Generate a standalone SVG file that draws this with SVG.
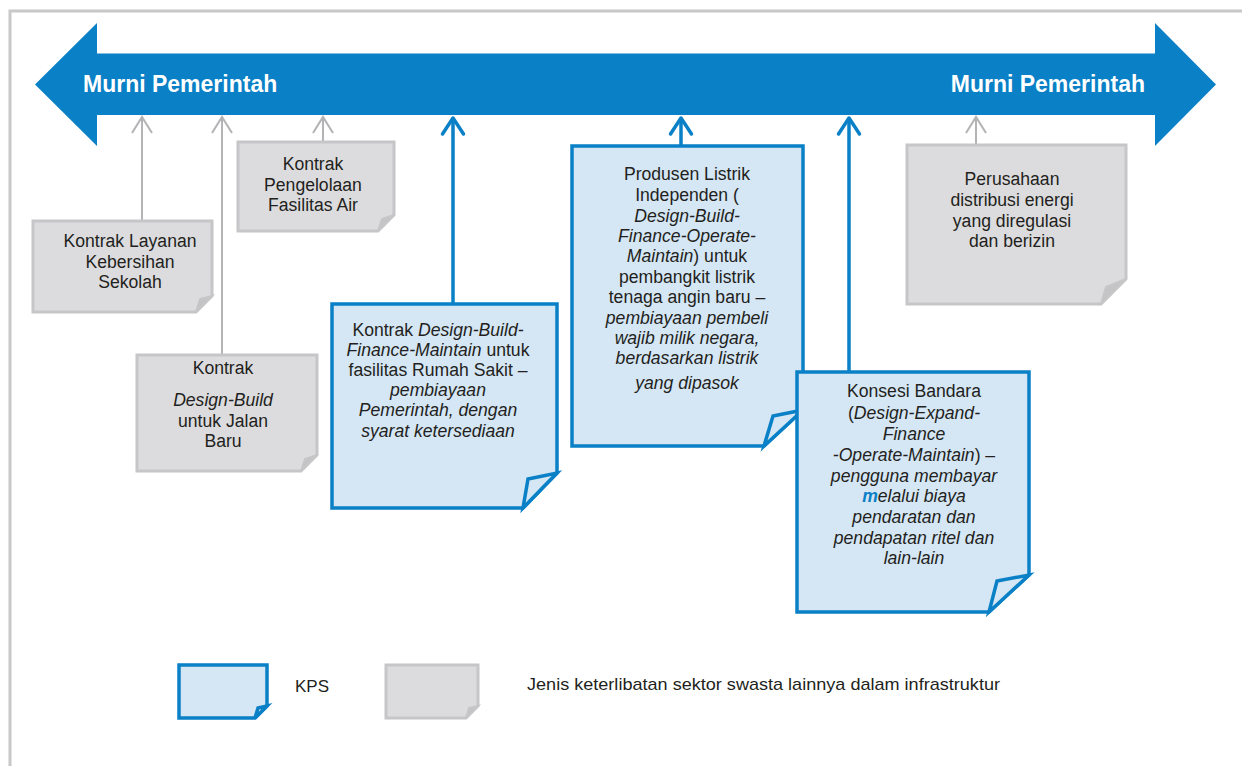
<svg xmlns="http://www.w3.org/2000/svg" width="1242" height="766" viewBox="0 0 1242 766">
<defs>
<style>
.t{font-family:"Liberation Sans",Arial,sans-serif;font-size:17.6px;fill:#231F20;text-anchor:middle}
.i{font-style:italic}
.h{font-family:"Liberation Sans",Arial,sans-serif;font-size:23px;font-weight:bold;fill:#FFFFFF}
.bb{fill:#D5E6F5;stroke:#0A80C6;stroke-width:3.5;stroke-linejoin:miter}
.gb{fill:#DCDCDE;stroke:#C6C6C8;stroke-width:3;stroke-linejoin:miter}
.gf{fill:#C4C4C6;stroke:#C6C6C8;stroke-width:2}
.cg{stroke:#B3B3B5;stroke-width:2;fill:none}
.cb{stroke:#0A80C6;stroke-width:3.5;fill:none}
.lg{font-family:"Liberation Sans",Arial,sans-serif;font-size:17px;fill:#231F20}
</style>
<marker id="ag" viewBox="-20 -15 30 30" markerWidth="30" markerHeight="30" refX="0" refY="0" orient="auto" markerUnits="userSpaceOnUse">
<path d="M-16,-10 L0,0 L-16,10" fill="none" stroke="#B3B3B5" stroke-width="2"/>
</marker>
<marker id="ab" viewBox="-20 -15 30 30" markerWidth="30" markerHeight="30" refX="0" refY="0" orient="auto" markerUnits="userSpaceOnUse">
<path d="M-16,-10.5 L0,0 L-16,10.5" fill="none" stroke="#0A80C6" stroke-width="3.5" stroke-linejoin="round" stroke-linecap="round"/>
</marker>
</defs>
<rect width="1242" height="766" fill="#FFFFFF"/>
<rect x="10" y="11" width="1250" height="780" fill="none" stroke="#C8C8C8" stroke-width="3"/>

<g id="arrow">
<polygon points="35,84.5 97,23 97,53.5 1155,53.5 1155,23 1216,84.5 1155,146 1155,115 97,115 97,146" fill="#0A80C6"/>
<text class="h" x="83" y="92">Murni Pemerintah</text>
<text class="h" x="1145" y="92" text-anchor="end">Murni Pemerintah</text>
</g>

<g id="connectors">
<line class="cg" x1="142" y1="221" x2="142" y2="117" marker-end="url(#ag)"/>
<line class="cg" x1="222" y1="355" x2="222" y2="117" marker-end="url(#ag)"/>
<line class="cg" x1="323" y1="142" x2="323" y2="117" marker-end="url(#ag)"/>
<line class="cg" x1="976" y1="145" x2="976" y2="117" marker-end="url(#ag)"/>
<line class="cb" x1="453" y1="304" x2="453" y2="118" marker-end="url(#ab)"/>
<line class="cb" x1="681" y1="146" x2="681" y2="118" marker-end="url(#ab)"/>
<line class="cb" x1="849" y1="372" x2="849" y2="118" marker-end="url(#ab)"/>
</g>

<g id="n-layanan">
<path class="gb" d="M33,221 H212 V296 L196,312 H33 Z"/>
<polygon class="gf" points="200,299 212,296 196,312"/>
<text class="t" x="130" y="247">Kontrak Layanan</text>
<text class="t" x="130" y="268">Kebersihan</text>
<text class="t" x="130" y="288">Sekolah</text>
</g>

<g id="n-air">
<path class="gb" d="M238,142 H394 V215 L378,231 H238 Z"/>
<polygon class="gf" points="382,219 394,215 378,231"/>
<text class="t" x="313" y="170">Kontrak</text>
<text class="t" x="313" y="191">Pengelolaan</text>
<text class="t" x="313" y="211">Fasilitas Air</text>
</g>

<g id="n-jalan">
<path class="gb" d="M137,355 H317 V455 L301,471 H137 Z"/>
<polygon class="gf" points="305,459 317,455 301,471"/>
<text class="t" x="223" y="374">Kontrak</text>
<text class="t i" x="223" y="406">Design-Build</text>
<text class="t" x="223" y="427">untuk Jalan</text>
<text class="t" x="223" y="447">Baru</text>
</g>

<g id="n-rumahsakit">
<path class="bb" d="M332,304 H557 V473 L523,508 H332 Z"/>
<polygon class="bb" points="528,479 557,473 523,508"/>
<text class="t" x="438" y="336">Kontrak <tspan class="i">Design-Build-</tspan></text>
<text class="t" x="438" y="356"><tspan class="i">Finance-Maintain</tspan> untuk</text>
<text class="t" x="438" y="376">fasilitas Rumah Sakit –</text>
<text class="t i" x="438" y="396">pembiayaan</text>
<text class="t i" x="438" y="416">Pemerintah, dengan</text>
<text class="t i" x="438" y="437">syarat ketersediaan</text>
</g>

<g id="n-listrik">
<path class="bb" d="M572,146 H803 V410 L764,446 H572 Z"/>
<polygon class="bb" points="773,416 803,410 764,446"/>
<text class="t" x="687" y="180">Produsen Listrik</text>
<text class="t" x="687" y="201">Independen (</text>
<text class="t i" x="687" y="222">Design-Build-</text>
<text class="t i" x="687" y="242">Finance-Operate-</text>
<text class="t" x="687" y="262"><tspan class="i">Maintain</tspan>) untuk</text>
<text class="t" x="687" y="283">pembangkit listrik</text>
<text class="t" x="687" y="303">tenaga angin baru –</text>
<text class="t i" x="687" y="324">pembiayaan pembeli</text>
<text class="t i" x="687" y="344">wajib milik negara,</text>
<text class="t i" x="687" y="364">berdasarkan listrik</text>
<text class="t i" x="687" y="389">yang dipasok</text>
</g>

<g id="n-bandara">
<path class="bb" d="M797,372 H1029 V575 L989,612 H797 Z"/>
<polygon class="bb" points="997,581 1029,575 989,612"/>
<text class="t" x="914" y="397">Konsesi Bandara</text>
<text class="t" x="914" y="419">(<tspan class="i">Design-Expand-</tspan></text>
<text class="t i" x="914" y="440">Finance</text>
<text class="t" x="914" y="461"><tspan class="i">-Operate-Maintain</tspan>) –</text>
<text class="t i" x="914" y="482">pengguna membayar</text>
<text class="t i" x="914" y="502"><tspan font-weight="bold" fill="#0A80C6">m</tspan>elalui biaya</text>
<text class="t i" x="914" y="523">pendaratan dan</text>
<text class="t i" x="914" y="544">pendapatan ritel dan</text>
<text class="t i" x="914" y="564">lain-lain</text>
</g>

<g id="n-energi">
<path class="gb" d="M907,145 H1126 V279 L1101,304 H907 Z"/>
<polygon class="gf" points="1106,287 1126,279 1101,304"/>
<text class="t" x="1012" y="185">Perusahaan</text>
<text class="t" x="1012" y="206">distribusi energi</text>
<text class="t" x="1012" y="227">yang diregulasi</text>
<text class="t" x="1012" y="247">dan berizin</text>
</g>

<g id="legend">
<path class="bb" d="M179,665 H267 V706 L255,718 H179 Z"/>
<polygon class="bb" points="258,708 267,706 255,718"/>
<text class="lg" x="295" y="692">KPS</text>
<path class="gb" d="M386,665 H478 V706 L466,718 H386 Z"/>
<polygon class="gf" points="469,708 478,706 466,718"/>
<text class="lg" x="527" y="690" textLength="473" lengthAdjust="spacingAndGlyphs">Jenis keterlibatan sektor swasta lainnya dalam infrastruktur</text>
</g>
</svg>
